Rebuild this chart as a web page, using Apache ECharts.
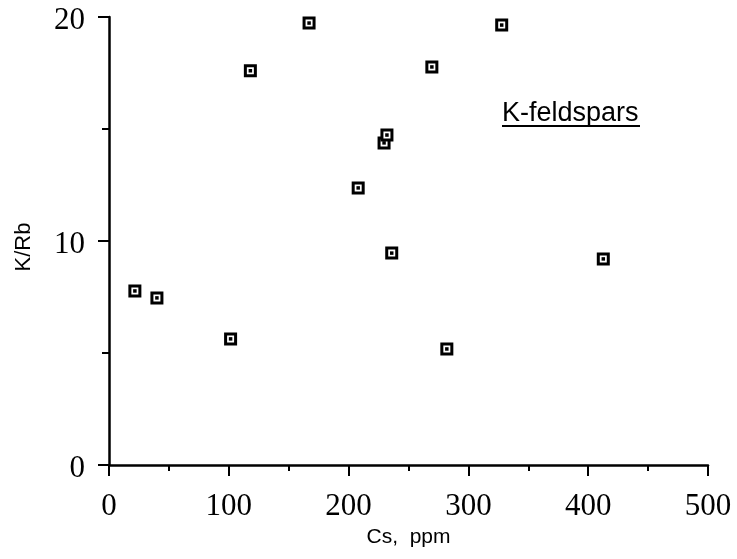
<!DOCTYPE html>
<html>
<head>
<meta charset="utf-8">
<script src="https://cdn.jsdelivr.net/npm/echarts@6/dist/echarts.min.js"></script>
<style>html,body{margin:0;padding:0;background:#fff;}#c{width:737px;height:559px;}</style>
</head>
<body>
<div id="c"></div>
<script>
var csPpm = [21.6, 40, 101.5, 118, 167, 208, 229.6, 232, 236, 269.5, 282, 327.8, 412.6];
var kRb   = [7.77, 7.46, 5.63, 17.6, 19.73, 12.37, 14.38, 14.73, 9.46, 17.77, 5.18, 19.64, 9.2];
var xTickLabels = ['0', '100', '200', '300', '400', '500'];
var yTickLabels = ['0', '10', '20'];
var annotation = 'K-feldspars';

var points = csPpm.map(function (x, i) { return [x, kRb[i]]; });
var chart = echarts.init(document.getElementById('c'));
var tickFont = { fontFamily: 'Liberation Serif', fontSize: 31, color: '#000' };
chart.setOption({
  animation: false,
  backgroundColor: '#fff',
  grid: { left: 109, right: 29, top: 17, bottom: 94, containLabel: false },
  xAxis: {
    type: 'value', min: 0, max: 500, interval: 100,
    name: 'Cs,  ppm', nameLocation: 'middle', nameGap: 62,
    nameTextStyle: { fontFamily: 'Liberation Sans', fontSize: 21, color: '#000' },
    axisLine: { lineStyle: { color: '#000', width: 2.5 } },
    axisTick: { show: true, inside: false, length: 11, lineStyle: { color: '#000', width: 2 } },
    minorTick: { show: true, splitNumber: 2, length: 6, lineStyle: { color: '#000', width: 2 } },
    axisLabel: Object.assign({ margin: 26, formatter: function (v) { return xTickLabels[Math.round(v / 100)]; } }, tickFont),
    splitLine: { show: false }
  },
  yAxis: {
    type: 'value', min: 0, max: 20, interval: 10,
    name: 'K/Rb', nameLocation: 'middle', nameGap: 74, nameRotate: 90,
    nameTextStyle: { fontFamily: 'Liberation Sans', fontSize: 22, color: '#000', padding: [0, 12, 0, 0] },
    axisLine: { lineStyle: { color: '#000', width: 2.5 } },
    axisTick: { show: true, inside: false, length: 11, lineStyle: { color: '#000', width: 2 } },
    minorTick: { show: true, splitNumber: 2, length: 7, lineStyle: { color: '#000', width: 2 } },
    axisLabel: {
      margin: 24,
      formatter: function (v) { return '{t|' + yTickLabels[Math.round(v / 10)] + '}'; },
      rich: { t: { fontFamily: 'Liberation Serif', fontSize: 31, color: '#000', padding: [8, 0, 0, 0] } }
    },
    splitLine: { show: false }
  },
  series: [
    {
      type: 'scatter', data: points, symbol: 'rect', symbolSize: 10,
      itemStyle: { color: '#fff', borderColor: '#000', borderWidth: 3, opacity: 1 },
      z: 2
    },
    {
      type: 'scatter', data: points, symbol: 'rect', symbolSize: 3.5,
      itemStyle: { color: '#000', opacity: 1 },
      z: 3
    }
  ],
  graphic: [
    {
      type: 'group', left: 502, top: 100,
      children: [
        { type: 'text', left: 0, top: 0, style: { text: annotation, font: '27px "Liberation Sans"', fill: '#000' } },
        { type: 'rect', left: 0, top: 25, shape: { width: 138, height: 2 }, style: { fill: '#000' } }
      ]
    }
  ]
});
</script>
</body>
</html>
